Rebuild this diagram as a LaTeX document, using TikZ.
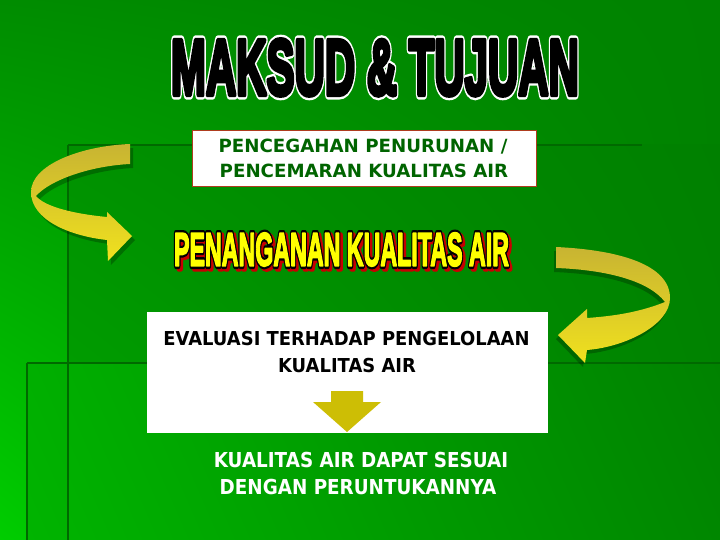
\documentclass[tikz,border=0pt]{standalone}
\usepackage{fontspec}
\usepackage{graphicx}
\usetikzlibrary{shadings}
\setmainfont{DejaVu Sans}
\newfontfamily\heavy{Liberation Sans}
\definecolor{gTop}{RGB}{0,140,0}
\definecolor{gBright}{RGB}{0,205,0}
\definecolor{gRight}{RGB}{0,130,0}
\definecolor{gLine}{RGB}{0,105,0}
\definecolor{dgreen}{RGB}{0,100,0}
\definecolor{boxred}{RGB}{175,60,30}
\definecolor{ribDark}{RGB}{200,180,50}
\definecolor{ribLight}{RGB}{240,225,30}
\definecolor{olive}{RGB}{205,190,5}
\definecolor{tyellow}{RGB}{255,255,0}
\definecolor{tred}{RGB}{200,0,0}
\definecolor{pA}{RGB}{0,145,0}
\definecolor{pB}{RGB}{0,165,0}
\definecolor{pC}{RGB}{0,128,0}
\definecolor{pD}{RGB}{0,132,0}
\definecolor{qA}{RGB}{0,175,0}
\definecolor{qB}{RGB}{0,180,0}
\definecolor{qC}{RGB}{0,130,0}
\definecolor{qD}{RGB}{0,135,0}
% #1 fill colour, #2 stroke rgb triple (0..1), #3 stroke width, #4 text
\newcommand\strokedtext[4]{\textcolor{#1}{\special{pdf:literal direct #2 RG #3 w 1 j 2 Tr}#4\special{pdf:literal direct 0 Tr}}}
\newcommand\titletext{MAKSUD \& TUJUAN}
\newcommand\handtext{PENANGANAN KUALITAS AIR}
\tikzset{
  bgline/.style={draw=gLine, line width=2.5pt},
  txt/.style={inner sep=0pt, outer sep=0pt, font=\bfseries},
  whitebox/.style={fill=white, inner sep=0pt, outer sep=0pt, anchor=north west},
  ribbon/.style={top color=ribDark, bottom color=ribLight},
  ribshadow/.style={fill=black, opacity=0.25},
}
\newcommand\leftribbon{(130,144) .. controls (80,146) and (31,165) .. (31,192)
  .. controls (31,220) and (70,236) .. (107,240) -- (108,261) -- (132,236)
  -- (107,212) -- (107,217) .. controls (75,214) and (45,207) .. (36,196)
  .. controls (50,180) and (90,166) .. (130,164) -- cycle}
\newcommand\rightribbon{(556,247) .. controls (620,250) and (670,265) .. (670,298)
  .. controls (670,325) and (625,347) .. (587,350) -- (585,363) -- (558,335)
  -- (587,309) -- (587,318) .. controls (615,316) and (640,312) .. (665,302)
  .. controls (650,282) and (610,270) .. (556,268) -- cycle}
\begin{document}
\begin{tikzpicture}[x=1pt,y=-1pt]
\useasboundingbox (0,0) rectangle (720,540);
% background
\shade[upper left=gTop, upper right=gRight, lower left=gBright, lower right=gRight]
  (0,0) rectangle (720,540);
\shade[upper left=pA, lower left=pB, upper right=pC, lower right=pD]
  (68,145) rectangle (720,540);
\shade[upper left=qA, lower left=qB, upper right=qC, lower right=qD]
  (27,363) rectangle (720,540);
\path[bgline] (68,145) -- (642,145);
\path[bgline] (68,145) -- (68,540);
\path[bgline] (27,363) -- (720,363);
\path[bgline] (27,363) -- (27,540);

% title
\node[txt, anchor=center] (title) at (375,67.5)
  {\resizebox{408pt}{55pt}{\heavy\bfseries\fontsize{60}{60}\selectfont
   \rlap{\strokedtext{white}{1 1 1}{7.5}{\titletext}}\strokedtext{black}{0 0 0}{3.8}{\titletext}}};

% box 1
\node[whitebox, draw=boxred, line width=1pt, minimum width=344pt, minimum height=56pt] (prev) at (192,131) {};
\node[txt, text=dgreen, anchor=base] (prev1) at (363,153) {\fontsize{18.2}{20}\selectfont PENCEGAHAN PENURUNAN /};
\node[txt, text=dgreen, anchor=base] (prev2) at (364,178) {\fontsize{18.2}{20}\selectfont PENCEMARAN KUALITAS AIR};

% ribbons
\fill[ribshadow, shift={(3,4)}] \leftribbon;
\shade[ribbon] \leftribbon;
\fill[ribshadow, shift={(-2,4)}] \rightribbon;
\shade[ribbon] \rightribbon;

% handling heading
\node[txt, anchor=center] (handshadow) at (344,252)
  {\resizebox{335pt}{33pt}{\heavy\bfseries\fontsize{40}{40}\selectfont\strokedtext{tred}{0.78 0 0}{5.5}{\handtext}}};
\node[txt, anchor=center] (hand) at (341.5,249.5)
  {\resizebox{335pt}{33pt}{\heavy\bfseries\fontsize{40}{40}\selectfont
   \rlap{\strokedtext{black}{0 0 0}{5.5}{\handtext}}\strokedtext{tyellow}{1 1 0}{1.6}{\handtext}}};

% box 2
\node[whitebox, minimum width=401pt, minimum height=121pt] (eval) at (147,312) {};
\node[txt, anchor=base] (eval1) at (346.5,345) {\scalebox{0.934}[1]{\fontsize{19.2}{21}\selectfont EVALUASI TERHADAP PENGELOLAAN}};
\node[txt, anchor=base] (eval2) at (347,372) {\scalebox{0.934}[1]{\fontsize{19.2}{21}\selectfont KUALITAS AIR}};
\coordinate (dtip) at (347,432);
\fill[olive] (331,391) -- (363,391) -- (363,402) -- (381,402) -- (dtip) -- (313,402) -- (331,402) -- cycle;

% result
\node[txt, text=white, anchor=base] (res1) at (361,467) {\scalebox{0.89}[1]{\fontsize{20.6}{22}\selectfont KUALITAS AIR DAPAT SESUAI}};
\node[txt, text=white, anchor=base] (res2) at (358,494) {\scalebox{0.89}[1]{\fontsize{20.6}{22}\selectfont DENGAN PERUNTUKANNYA}};
\end{tikzpicture}
\end{document}
